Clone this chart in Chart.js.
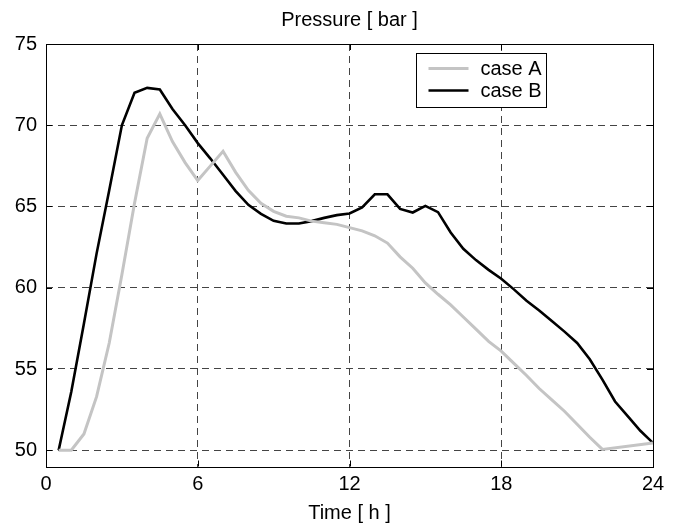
<!DOCTYPE html>
<html>
<head>
<meta charset="utf-8">
<script src="https://cdn.jsdelivr.net/npm/chart.js@4/dist/chart.umd.min.js"></script>
<style>
  html, body { margin: 0; padding: 0; background: #fff; }
  #wrap { width: 683px; height: 525px; }
</style>
</head>
<body>
<div id="wrap"><canvas id="c" width="683" height="525"></canvas></div>
<script>
// Time of day in hours
const hours = [
  0.5, 1.0, 1.5, 2.0, 2.5, 3.0, 3.5, 4.0, 4.5, 5.0, 5.5, 6.0,
  6.5, 7.0, 7.5, 8.0, 8.5, 9.0, 9.5, 10.0, 10.5, 11.0, 11.5, 12.0,
  12.5, 13.0, 13.5, 14.0, 14.5, 15.0, 15.5, 16.0, 16.5, 17.0, 17.5, 18.0,
  18.5, 19.0, 19.5, 20.0, 20.5, 21.0, 21.5, 22.0, 22.5, 23.0, 23.5, 24.0
];

// Pressure [bar], case A (null = no sample at that hour)
const pressureA = [
  50.0, 50.0, 51.0, 53.3, 56.6, 60.8, 65.2, 69.2, 70.7, 69.0, 67.7, 66.6,
  67.5, 68.4, 67.1, 66.0, 65.2, 64.7, 64.4, 64.3, 64.1, 64.0, 63.9, 63.7,
  63.5, 63.2, 62.75, 61.9, 61.2, 60.3, 59.6, 58.95, 58.2, 57.45, 56.7, 56.1,
  55.35, 54.6, 53.8, 53.1, 52.4, 51.6, 50.8, 50.05, null, null, null, 50.45
];

// Pressure [bar], case B
const pressureB = [
  50.0, 53.6, 57.8, 62.1, 66.0, 70.0, 72.0, 72.3, 72.2, 71.0, 70.0, 68.9,
  67.95, 66.95, 65.95, 65.1, 64.55, 64.12, 63.95, 63.95, 64.1, 64.3, 64.47, 64.57,
  64.95, 65.75, 65.75, 64.85, 64.63, 65.04, 64.65, 63.4, 62.4, 61.7, 61.1, 60.55,
  59.9, 59.2, 58.6, 57.95, 57.3, 56.6, 55.6, 54.35, 53.0, 52.1, 51.2, 50.45
];

const seriesNames = ['case A', 'case B'];
const xTicks = [0, 6, 12, 18, 24];
const yTicks = [50, 55, 60, 65, 70, 75];

const FONT = '"Liberation Sans", Arial, Helvetica, sans-serif';
const FS = 20;

function toPoints(xs, ys) {
  const out = [];
  for (let i = 0; i < xs.length; i++) {
    if (ys[i] !== null) out.push({ x: xs[i], y: ys[i] });
  }
  return out;
}

// Frame, inward tick marks and the boxed legend
const framePlugin = {
  id: 'frame',
  afterDatasetsDraw(chart) {
    const { ctx, chartArea: a, scales } = chart;
    ctx.save();
    ctx.strokeStyle = '#000';
    ctx.lineWidth = 1;
    ctx.setLineDash([]);
    const tl = 6;
    ctx.beginPath();
    xTicks.forEach(v => {
      const px = Math.round(scales.x.getPixelForValue(v)) + 0.5;
      ctx.moveTo(px, a.bottom); ctx.lineTo(px, a.bottom - tl);
      ctx.moveTo(px, a.top); ctx.lineTo(px, a.top + tl);
    });
    yTicks.forEach(v => {
      const py = Math.round(scales.y.getPixelForValue(v)) + 0.5;
      ctx.moveTo(a.left, py); ctx.lineTo(a.left + tl, py);
      ctx.moveTo(a.right, py); ctx.lineTo(a.right - tl, py);
    });
    ctx.stroke();
    ctx.strokeRect(Math.round(a.left) + 0.5, Math.round(a.top) + 0.5,
                   Math.round(a.right - a.left), Math.round(a.bottom - a.top));

    // legend box
    const bx = 416.5, by = 53.5, bw = 130, bh = 54;
    ctx.fillStyle = '#fff';
    ctx.fillRect(bx, by, bw, bh);
    ctx.strokeRect(bx, by, bw, bh);
    ctx.font = FS + 'px ' + FONT;
    ctx.textBaseline = 'middle';
    ctx.textAlign = 'left';
    chart.data.datasets.forEach((ds, i) => {
      const ry = by + 15 + i * 22;
      ctx.strokeStyle = ds.borderColor;
      ctx.lineWidth = ds.borderWidth;
      ctx.beginPath();
      ctx.moveTo(bx + 12, ry);
      ctx.lineTo(bx + 52, ry);
      ctx.stroke();
      ctx.fillStyle = '#000';
      ctx.fillText(ds.label, bx + 64, ry + 1);
    });
    ctx.restore();
  }
};

new Chart(document.getElementById('c'), {
  type: 'line',
  data: {
    datasets: [
      {
        label: seriesNames[0],
        data: toPoints(hours, pressureA),
        borderColor: '#c4c4c4',
        borderWidth: 3,
        pointRadius: 0,
        tension: 0,
        fill: false
      },
      {
        label: seriesNames[1],
        data: toPoints(hours, pressureB),
        borderColor: '#000000',
        borderWidth: 2.6,
        pointRadius: 0,
        tension: 0,
        fill: false
      }
    ]
  },
  options: {
    responsive: false,
    animation: false,
    devicePixelRatio: 1,
    layout: { padding: { left: 0, right: 30, top: 0, bottom: 0 } },
    plugins: {
      legend: { display: false },
      tooltip: { enabled: false },
      title: {
        display: true,
        fullSize: false,
        text: 'Pressure [ bar ]',
        color: '#000',
        font: { family: FONT, size: FS, weight: 'normal', lineHeight: 1.2 },
        padding: { top: 8, bottom: 12 }
      }
    },
    scales: {
      x: {
        type: 'linear',
        min: 0,
        max: 24,
        afterBuildTicks(s) { s.ticks = xTicks.map(v => ({ value: v })); },
        afterFit(s) { s.height = 58.5; },
        ticks: {
          color: '#000',
          padding: 6,
          font: { family: FONT, size: FS },
          maxRotation: 0
        },
        grid: { color: '#444', lineWidth: 1, drawTicks: false },
        border: { display: false, dash: [7, 5] },
        title: {
          display: true,
          text: 'Time [ h ]',
          color: '#000',
          font: { family: FONT, size: FS, lineHeight: 1.2 },
          padding: { top: 0, bottom: 0 }
        }
      },
      y: {
        type: 'linear',
        min: 49,
        max: 75,
        afterBuildTicks(s) { s.ticks = yTicks.map(v => ({ value: v })); },
        afterFit(s) { s.width = 46; },
        ticks: {
          color: '#000',
          padding: 9,
          font: { family: FONT, size: FS }
        },
        grid: { color: '#444', lineWidth: 1, drawTicks: false },
        border: { display: false, dash: [7, 5] }
      }
    }
  },
  plugins: [framePlugin]
});
</script>
</body>
</html>
